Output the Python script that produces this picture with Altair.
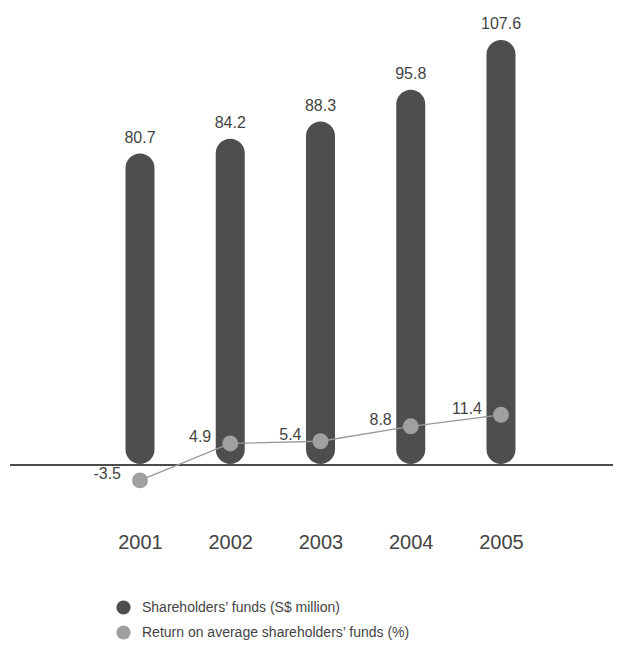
import altair as alt
import pandas as pd

years = ["2001", "2002", "2003", "2004", "2005"]
funds = [80.7, 84.2, 88.3, 95.8, 107.6]
returns = [-3.5, 4.9, 5.4, 8.8, 11.4]
series = ["Shareholders’ funds (S$ million)", "Return on average shareholders’ funds (%)"]
colors = ["#4d4e4d", "#a0a19f"]

df = pd.DataFrame({"year": years, "funds": funds, "ret": returns,
                   "s_bar": [series[0]] * len(years),
                   "s_line": [series[1]] * len(years)})
zero_df = pd.DataFrame({"z": [0]})

W, H = 605, 634
FONT = "Liberation Sans"

x_enc = alt.X(
    "year:N",
    sort=years,
    scale=alt.Scale(type="point", range=[132, 493], padding=0),
    axis=alt.Axis(title=None, domain=False, ticks=False, labelFontSize=20,
                  labelColor="#444444", labelFont=FONT, labelPadding=0,
                  offset=-110, labelAngle=0, grid=False),
)

bar_scale = alt.Scale(domain=[7.2, 107.6], range=[456, 32], nice=False, zero=False)
line_scale = alt.Scale(domain=[-10, 20], range=[501, 369], nice=False, zero=False)
color_scale = alt.Scale(domain=series, range=colors)
legend = alt.Legend(title=None, orient="none", legendX=108, legendY=592,
                    symbolType="circle", symbolSize=201, symbolStrokeWidth=0,
                    labelFontSize=14, labelColor="#444444", labelFont=FONT,
                    labelOffset=11, rowPadding=10, padding=0, labelLimit=400)

base = alt.Chart(df)

bars = base.mark_bar(size=29, cornerRadius=14.5).encode(
    x=x_enc,
    y=alt.Y("funds:Q", scale=bar_scale, axis=None),
    y2=alt.datum(7.2),
    color=alt.Color("s_bar:N", scale=color_scale, legend=legend),
)
bar_text = base.mark_text(fontSize=16, font=FONT, color="#444444", dy=-11,
                          baseline="alphabetic").encode(
    x=x_enc,
    y=alt.Y("funds:Q", scale=bar_scale, axis=None),
    text=alt.Text("funds:Q", format=".1f"),
)
bar_layer = alt.layer(bars, bar_text)

rule = alt.Chart(zero_df).mark_rule(color="#111111", strokeWidth=1.5).encode(
    y=alt.Y("z:Q", scale=line_scale, axis=None),
    x=alt.value(2),
    x2=alt.value(W),
)
line = base.mark_line(color="#999999", strokeWidth=1.3).encode(
    x=x_enc,
    y=alt.Y("ret:Q", scale=line_scale, axis=None),
)
points = base.mark_circle(size=254, opacity=1).encode(
    x=x_enc,
    y=alt.Y("ret:Q", scale=line_scale, axis=None),
    color=alt.Color("s_line:N", scale=color_scale, legend=legend),
)
line_text = base.transform_calculate(
    lbl="toString(datum.ret)"
).mark_text(fontSize=16, font=FONT, color="#444444", align="right",
            baseline="middle", dx=-19, dy=-6).encode(
    x=x_enc,
    y=alt.Y("ret:Q", scale=line_scale, axis=None),
    text="lbl:N",
)
line_layer = alt.layer(rule, line, points, line_text)

chart = alt.layer(bar_layer, line_layer).resolve_scale(y="independent").properties(
    width=W, height=H, padding=0,
    autosize=alt.AutoSizeParams(type="none"),
    view=alt.ViewBackground(strokeWidth=0, strokeOpacity=0),
).configure_view(strokeWidth=0, strokeOpacity=0).configure_axis(
    grid=False, domain=False, ticks=False
).configure(font=FONT, background="white")

chart.save("out.html", embed_options={"renderer": "svg", "actions": False})
